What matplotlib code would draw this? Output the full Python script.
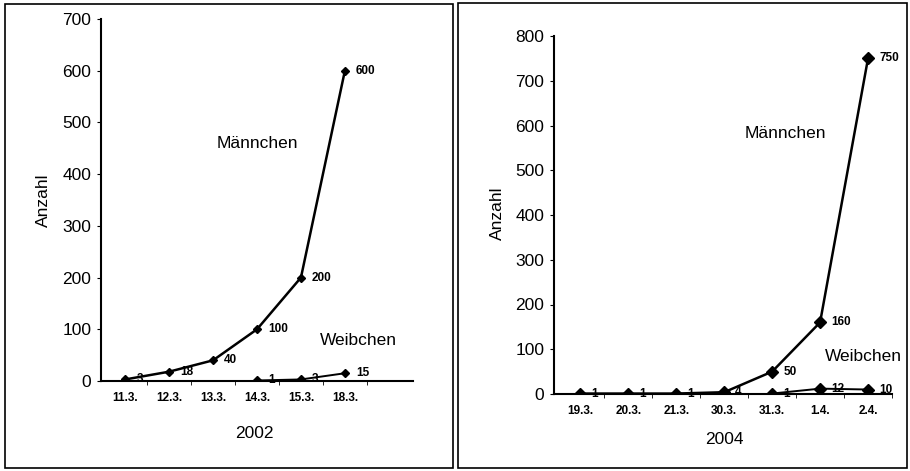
import matplotlib
matplotlib.use("Agg")
import matplotlib.pyplot as plt
from matplotlib.patches import Rectangle

plt.rcParams["font.family"] = ["Liberation Sans", "DejaVu Sans"]

# 2002
days_2002 = ["11.3.", "12.3.", "13.3.", "14.3.", "15.3.", "18.3."]
males_2002 = [3, 18, 40, 100, 200, 600]
female_days_2002 = ["14.3.", "15.3.", "18.3."]
females_2002 = [1, 3, 15]

# 2004
days_2004 = ["19.3.", "20.3.", "21.3.", "30.3.", "31.3.", "1.4.", "2.4."]
males_2004 = [1, 1, 1, 4, 50, 160, 750]
female_days_2004 = ["31.3.", "1.4.", "2.4."]
females_2004 = [1, 12, 10]


def draw_panel(ax, days, males, fdays, females, ymax, ms, xmax):
    xs = list(range(len(days)))
    fx = [days.index(d) for d in fdays]
    ax.plot(xs, males, color="black", lw=1.8, marker="D", ms=ms, zorder=3)
    ax.plot(fx, females, color="black", lw=1.4, marker="D", ms=ms, zorder=3)
    for x, v in zip(xs, males):
        ax.annotate(str(v), (x, v), xytext=(8, 0), textcoords="offset points",
                    ha="left", va="center", fontsize=8.5, fontweight="bold")
    for x, v in zip(fx, females):
        ax.annotate(str(v), (x, v), xytext=(8, 0), textcoords="offset points",
                    ha="left", va="center", fontsize=8.5, fontweight="bold")
    ax.set_xlim(-0.55, xmax)
    ax.set_ylim(0, ymax)
    ax.set_xticks(xs)
    ax.set_xticklabels(days, fontsize=8.5, fontweight="bold")
    ax.set_xticks([x + 0.5 for x in xs], minor=True)
    ax.tick_params(axis="x", which="major", length=0, pad=8)
    ax.tick_params(axis="x", which="minor", length=3, direction="out")
    ax.tick_params(axis="y", labelsize=12.5, length=3, pad=4)
    for s in ("top", "right"):
        ax.spines[s].set_visible(False)
    ax.spines["left"].set_linewidth(1.5)
    ax.spines["bottom"].set_linewidth(1.5)
    ax.set_yticks(range(0, ymax + 1, 100))


fig = plt.figure(figsize=(9.1, 4.71), dpi=100)

ax1 = fig.add_axes([101 / 910, 1 - 381 / 471, 312 / 910, 362 / 471])
draw_panel(ax1, days_2002, males_2002, female_days_2002, females_2002, 700, 4.5, 6.55)
ax1.text(3.0, 459, "Männchen", ha="center", va="center", fontsize=12.5)
ax1.text(5.3, 78, "Weibchen", ha="center", va="center", fontsize=12.5)

ax2 = fig.add_axes([554 / 910, 1 - 394 / 471, 338 / 910, 358 / 471])
draw_panel(ax2, days_2004, males_2004, female_days_2004, females_2004, 800, 6, 6.5)
ax2.text(4.27, 583, "Männchen", ha="center", va="center", fontsize=12.5)
ax2.text(5.9, 83, "Weibchen", ha="center", va="center", fontsize=12.5)

fig.text(254 / 910, 1 - 434 / 471, "2002", ha="center", va="center", fontsize=12.5)
fig.text(724 / 910, 1 - 440 / 471, "2004", ha="center", va="center", fontsize=12.5)
fig.text(43 / 910, 1 - 200 / 471, "Anzahl", ha="center", va="center", fontsize=12.5, rotation=90)
fig.text(497 / 910, 1 - 213 / 471, "Anzahl", ha="center", va="center", fontsize=12.5, rotation=90)

# panel frames
fig.add_artist(Rectangle((5 / 910, 1 - 468 / 471), 448 / 910, 464 / 471,
                         transform=fig.transFigure, fill=False, lw=1.2, ec="black"))
fig.add_artist(Rectangle((458 / 910, 1 - 468 / 471), 449 / 910, 465 / 471,
                         transform=fig.transFigure, fill=False, lw=1.2, ec="black"))

fig.savefig("out.png", dpi=100)
